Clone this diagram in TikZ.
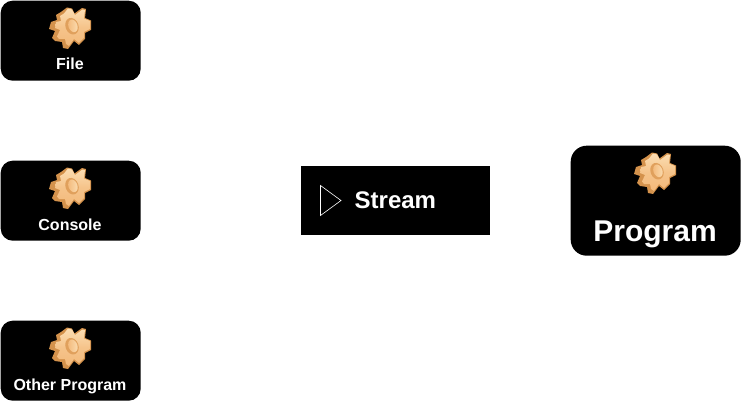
\documentclass[tikz,border=0pt]{standalone}
\usepackage{fontspec}
\setmainfont{Liberation Sans}
\definecolor{gearlight}{HTML}{FBDDB2}
\definecolor{gearmid}{HTML}{F3B97A}
\definecolor{geardark}{HTML}{D4924C}
\definecolor{gearhole}{HTML}{E0A05C}
\newcommand{\gearsilhouette}{
  (-9,-16) -- (-3,-20.5) -- (2,-19.5) -- (4.5,-14.5) -- (12,-20) -- (16,-19) -- (15,-10)
  -- (21,-7.5) -- (21,2) -- (15,5) -- (15,11) -- (9,17) -- (4,13) -- (-2,21) -- (-7,20)
  -- (-8,14) -- (-15,13) -- (-18,10) -- (-15,3) -- (-21,1) -- (-19,-6) -- (-13,-8) -- (-14,-13) -- cycle
}
\newcommand{\gearface}{
  (-6,-14.5) -- (-2,-19.5) -- (2,-18.5) -- (5,-13) -- (12.5,-18.5) -- (15,-18) -- (14,-9.5)
  -- (20,-7) -- (20,1) -- (14,4) -- (14,10) -- (9,15) -- (4,11) -- (-1,18) -- (-4,16)
  -- (-5,11) -- (-11,11) -- (-13,8.5) -- (-10,2) -- (-15,0) -- (-14,-6) -- (-9,-7) -- (-10,-12) -- cycle
}
\tikzset{
  x=1pt,y=-1pt,
  boxnode/.style={fill=black,rounded corners=#1,inner sep=0pt,anchor=north west},
  boxnode/.default=12pt,
  boxlabel/.style={text=white,font=\bfseries\fontsize{16}{18}\selectfont,inner sep=0pt,anchor=base},
  biglabel/.style={text=white,font=\bfseries\fontsize{30}{34}\selectfont,inner sep=0pt,anchor=base},
  midlabel/.style={text=white,font=\bfseries\fontsize{24}{28}\selectfont,inner sep=0pt,anchor=base west},
  gearpic/.pic={
    \fill[geardark] \gearsilhouette;
    \shade[top color=gearlight,bottom color=gearmid,middle color=gearmid!70!gearlight] \gearface;
    \fill[gearhole,rotate=20] (2.5,-1) ellipse[x radius=6.5,y radius=8.5];
    \shade[left color=gearmid,right color=gearlight,rotate=20] (3.5,-1) ellipse[x radius=4.5,y radius=6.5];
  }
}
\begin{document}
\begin{tikzpicture}
\useasboundingbox (0,0) rectangle (741,401);
\node[boxnode,minimum width=140pt,minimum height=80pt] (file) at (0.5,0.5) {};
\node[boxnode,minimum width=140pt,minimum height=80pt] (console) at (0.5,160.5) {};
\node[boxnode,minimum width=140pt,minimum height=80pt] (other) at (0.5,320.5) {};
\node[boxnode=16pt,minimum width=170pt,minimum height=110pt] (program) at (570.5,145.5) {};
\node[fill=black,inner sep=0pt,anchor=north west,minimum width=189pt,minimum height=69pt] (stream) at (301,166) {};
\pic at (70,28) {gearpic};
\pic at (70,188) {gearpic};
\pic at (70,348) {gearpic};
\pic at (655,173) {gearpic};
\node[boxlabel] (filelabel) at (70,70) {File};
\node[boxlabel] (consolelabel) at (70,230) {Console};
\node[boxlabel] (otherlabel) at (70,390) {Other Program};
\node[biglabel] (programlabel) at (655,241) {Program};
\node[midlabel] (streamlabel) at (354.5,208.5) {Stream};
\draw[white,line width=0.6pt] (320.5,185.5) -- (341,200.5) -- (320.5,215.5) -- cycle;
\end{tikzpicture}
\end{document}
